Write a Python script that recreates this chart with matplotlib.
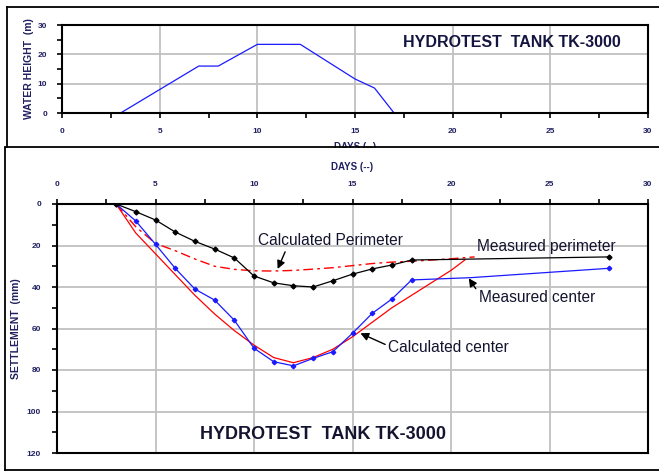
import matplotlib
matplotlib.use('Agg')
import matplotlib.pyplot as plt
from matplotlib.lines import Line2D
from matplotlib.patches import Rectangle

plt.rcParams['font.family'] = ['Liberation Sans', 'DejaVu Sans']

# Water height in the tank (top panel)
fill_days = [3, 7, 8, 10, 12.2, 15, 16, 17]
water_height = [0, 16, 16, 23.4, 23.4, 11.6, 8.5, 0]

# Settlement (bottom panel)
perim_days = [3, 4, 5, 6, 7, 8, 9, 10, 11, 12, 13, 14, 15, 16, 17, 18, 28]
perim_measured = [0, 3.7, 7.7, 13.5, 18, 21.7, 26, 34.7, 38, 39.4, 40, 37, 33.8, 31.3, 29.4, 27, 25.5]

center_days = [3, 4, 5, 6, 7, 8, 9, 10, 11, 12, 13, 14, 15, 16, 17, 18, 21, 28]
center_measured = [0, 8.2, 19.4, 31, 41, 46.3, 56, 69.5, 76, 78, 74.4, 71.2, 62.3, 52.7, 45.8, 36.6, 35.5, 31]

calc_center_days = [3, 4, 5, 6, 7, 8, 9, 10, 11, 12, 13, 14, 15, 16, 17, 18, 19, 20, 20.7]
calc_center = [0, 14, 24, 34, 44, 53, 61, 68, 74, 76.5, 74, 70, 64, 57, 50, 44, 38, 32, 27]

calc_perim_days = [3, 4, 5, 6, 7, 8, 9, 10, 11, 12, 13, 14, 15, 16, 17, 18, 19, 20, 21.2]
calc_perim = [0, 11, 19, 22.5, 26.5, 30, 31.5, 32.2, 32.3, 32, 31.4, 30.7, 29.7, 28.7, 28, 27.6, 27, 26.4, 25.5]

W, H = 659, 471
label_col = '#202060'
grid_col = '#c0c0c0'


def fx(px):
    return px / W


def fy(py):
    return 1 - py / H


fig = plt.figure(figsize=(W / 100, H / 100), dpi=100)

# ---------- top panel: water height ----------
ax1 = fig.add_axes([fx(62), fy(113), fx(648) - fx(62), fy(25) - fy(113)])
ax1.plot(fill_days, water_height, color='#1a1aff', lw=0.9)
ax1.set_xlim(0, 30)
ax1.set_ylim(0, 30)
ax1.set_xticks(range(0, 31, 5))
ax1.set_xticks([2.5 + 5 * i for i in range(6)], minor=True)
ax1.set_yticks(range(0, 31, 10))
ax1.set_yticks([5, 15, 25], minor=True)
ax1.grid(True, which='major', color=grid_col, lw=1.3)
ax1.set_axisbelow(True)
ax1.tick_params(which='both', direction='out', length=3.5, width=1.2, color='black')
ax1.tick_params(labelsize=6, labelcolor=label_col, pad=7)
for lab in ax1.get_xticklabels() + ax1.get_yticklabels():
    lab.set_fontweight('bold')
for s in ax1.spines.values():
    s.set_linewidth(1.5)
ax1.set_ylabel('WATER HEIGHT  (m)', fontsize=7.5, fontweight='bold', color=label_col, labelpad=3)
ax1.text(17.45, 24.2, 'HYDROTEST  TANK TK-3000', fontsize=11.5, fontweight='bold',
         color='#141440', va='center', ha='left')

# xlabel of top panel, mostly hidden behind the lower frame
fig.text(fx(355), fy(142.5), 'DAYS (--)', fontsize=7, fontweight='bold', color=label_col,
         ha='center', va='top', zorder=0.8)
fig.add_artist(Rectangle((0, 0), 1, fy(147.5), transform=fig.transFigure,
                         facecolor='white', edgecolor='none', zorder=1))

# ---------- bottom panel: settlement ----------
ax2 = fig.add_axes([fx(57), fy(453), fx(648) - fx(57), fy(204) - fy(453)])
ax2.set_zorder(2)
ax2.plot(calc_center_days, calc_center, color='red', lw=0.9)
ax2.plot(calc_perim_days, calc_perim, color='red', lw=1.0, ls=(0, (7, 3, 2, 3)))
ax2.plot(center_days, center_measured, color='#1a1aff', lw=0.9, marker='D', ms=2.3,
         markevery=[i for i in range(len(center_days)) if center_days[i] != 21])
ax2.plot(perim_days, perim_measured, color='black', lw=0.9, marker='D', ms=2.5)
ax2.set_xlim(0, 30)
ax2.set_ylim(120, 0)
ax2.xaxis.tick_top()
ax2.xaxis.set_label_position('top')
ax2.set_xticks(range(0, 31, 5))
ax2.set_xticks([2.5 + 5 * i for i in range(6)], minor=True)
ax2.set_yticks(range(0, 121, 20))
ax2.set_yticks(range(10, 120, 20), minor=True)
ax2.grid(True, which='major', color=grid_col, lw=1.3)
ax2.set_axisbelow(True)
ax2.tick_params(which='both', direction='out', length=3.5, width=1.2, color='black')
ax2.tick_params(labelsize=6, labelcolor=label_col, pad=8)
for lab in ax2.get_xticklabels() + ax2.get_yticklabels():
    lab.set_fontweight('bold')
for s in ax2.spines.values():
    s.set_linewidth(1.5)
ax2.set_ylabel('SETTLEMENT  (mm)', fontsize=7.5, fontweight='bold', color=label_col, labelpad=4)
ax2.set_xlabel('DAYS (--)', fontsize=7, fontweight='bold', color=label_col, labelpad=8)

txt_col = '#141430'
arrow = dict(arrowstyle='-|>', color='black', lw=1.0, mutation_scale=12)
ax2.annotate('Calculated Perimeter', xy=(11.2, 31.3), xytext=(10.2, 17.5), fontsize=11.2,
             color=txt_col, va='center', ha='left',
             arrowprops=dict(arrow, shrinkA=1, shrinkB=0, relpos=(0.2, 0.0)))
ax2.text(21.3, 20.7, 'Measured perimeter', fontsize=11.2, color=txt_col, va='center', ha='left')
ax2.annotate('Measured center', xy=(20.9, 35.8), xytext=(21.4, 45.3), fontsize=11.2,
             color=txt_col, va='center', ha='left',
             arrowprops=dict(arrow, shrinkA=0, shrinkB=0, relpos=(0.0, 0.85)))
ax2.annotate('Calculated center', xy=(15.4, 62.3), xytext=(16.8, 69), fontsize=11.2,
             color=txt_col, va='center', ha='left',
             arrowprops=dict(arrow, shrinkA=0, shrinkB=0, relpos=(0.0, 0.6)))
ax2.text(7.26, 111.3, 'HYDROTEST  TANK TK-3000', fontsize=13, fontweight='bold',
         color='#141430', va='center', ha='left')

# ---------- panel frames ----------
frame = dict(color='black', lw=1.3, transform=fig.transFigure, zorder=3)
fig.add_artist(Line2D([fx(7), fx(7)], [fy(7), fy(147)], **frame))
fig.add_artist(Line2D([fx(7), 1], [fy(7), fy(7)], **frame))
fig.add_artist(Line2D([fx(5), 1], [fy(147), fy(147)], **frame))
fig.add_artist(Line2D([fx(5), fx(5)], [fy(148), fy(470)], **frame))
fig.add_artist(Line2D([fx(5), 1], [fy(470), fy(470)], **frame))

fig.savefig('out.png', dpi=100)
